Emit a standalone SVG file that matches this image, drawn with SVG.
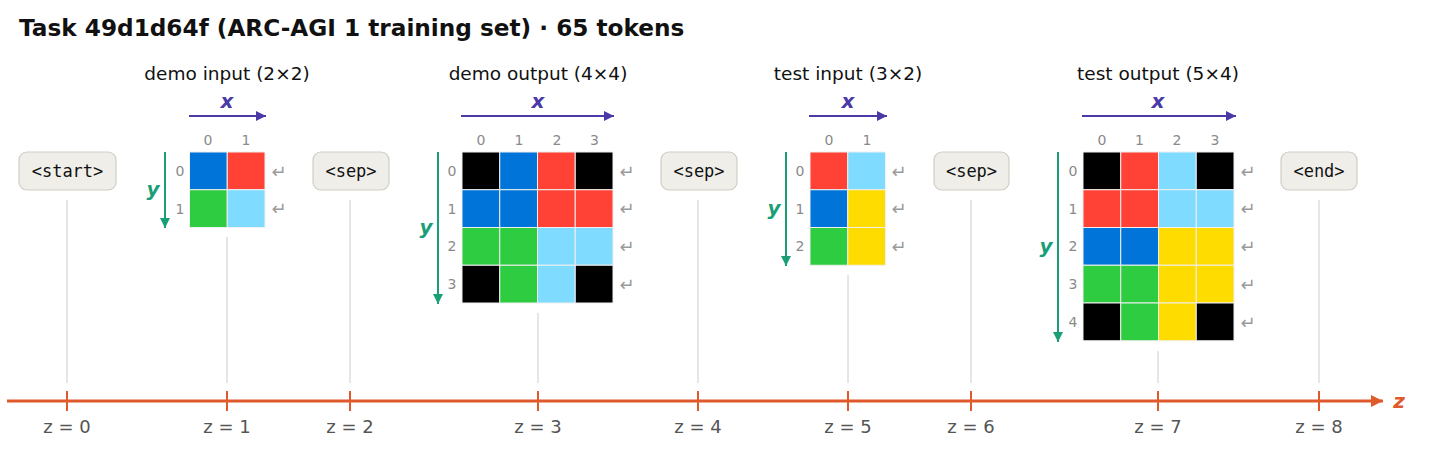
<svg xmlns="http://www.w3.org/2000/svg" width="1429" height="461" viewBox="0 0 1429 461">
<style>
  text { font-family: "DejaVu Sans", "Liberation Sans", sans-serif; }
  .title { font-size: 23.2px; font-weight: bold; fill: #111; }
  .sub { font-size: 18.5px; fill: #111; text-anchor: middle; }
  .zl { font-size: 18px; fill: #555; text-anchor: middle; }
  .tok { font-family: "DejaVu Sans Mono", "Liberation Mono", monospace; font-size: 17px; fill: #111; text-anchor: middle; dominant-baseline: central; }
  .box { fill: #efeee9; stroke: #cfcdc4; stroke-width: 1.2; }
  .idx { font-size: 14px; fill: #8a8a8a; text-anchor: middle; dominant-baseline: central; }
  .ret { font-size: 18px; fill: #9a9a9a; text-anchor: middle; dominant-baseline: central; }
  .xl { font-size: 20px; font-weight: bold; font-style: italic; fill: #4a3aa8; text-anchor: middle; dominant-baseline: central; }
  .yl { font-size: 20px; font-weight: bold; font-style: italic; fill: #1a9e77; text-anchor: middle; dominant-baseline: central; }
  .xa { stroke: #4a3aa8; stroke-width: 2; fill: none; }
  .ya { stroke: #1a9e77; stroke-width: 2; fill: none; }
  .vl { stroke: #cccccc; stroke-width: 1; }
  .axis { stroke: #e0592a; stroke-width: 3; }
  .tick { stroke: #e0592a; stroke-width: 2; }
  .c { stroke: #f0f0f0; stroke-width: 1; }
  .k { fill: #000000; } .b { fill: #0074D9; } .r { fill: #FF4136; } .g { fill: #2ECC40; } .l { fill: #7FDBFF; } .y { fill: #FFDC00; }
</style>
<defs>
  <marker id="mx" viewBox="0 0 10 10" refX="10" refY="5" markerWidth="5" markerHeight="5" orient="auto" markerUnits="strokeWidth"><path d="M0,0 L10,5 L0,10 z" fill="#4a3aa8"/></marker>
  <marker id="my" viewBox="0 0 10 10" refX="10" refY="5" markerWidth="5" markerHeight="5" orient="auto" markerUnits="strokeWidth"><path d="M0,0 L10,5 L0,10 z" fill="#1a9e77"/></marker>
  <marker id="mz" viewBox="0 0 10 10" refX="10" refY="5" markerWidth="4" markerHeight="4" orient="auto" markerUnits="strokeWidth"><path d="M0,0 L10,5 L0,10 z" fill="#e0592a"/></marker>
</defs>

<text class="title" x="19" y="36">Task 49d1d64f (ARC-AGI 1 training set) · 65 tokens</text>

<g id="connectors">
  <line class="vl" x1="67" y1="200" x2="67" y2="383"/>
  <line class="vl" x1="227" y1="237" x2="227" y2="383"/>
  <line class="vl" x1="350" y1="200" x2="350" y2="383"/>
  <line class="vl" x1="538" y1="313" x2="538" y2="383"/>
  <line class="vl" x1="698" y1="200" x2="698" y2="383"/>
  <line class="vl" x1="848" y1="275" x2="848" y2="383"/>
  <line class="vl" x1="971" y1="200" x2="971" y2="383"/>
  <line class="vl" x1="1158" y1="351" x2="1158" y2="383"/>
  <line class="vl" x1="1319" y1="200" x2="1319" y2="383"/>
</g>

<g id="z-axis">
  <line class="axis" x1="7" y1="401" x2="1383" y2="401" marker-end="url(#mz)"/>
  <text x="1399" y="401" style="font-size:20px;font-weight:bold;font-style:italic;fill:#e0592a;text-anchor:middle;dominant-baseline:central">z</text>
  <line class="tick" x1="67" y1="391" x2="67" y2="411"/>
  <line class="tick" x1="227" y1="391" x2="227" y2="411"/>
  <line class="tick" x1="350" y1="391" x2="350" y2="411"/>
  <line class="tick" x1="538" y1="391" x2="538" y2="411"/>
  <line class="tick" x1="698" y1="391" x2="698" y2="411"/>
  <line class="tick" x1="848" y1="391" x2="848" y2="411"/>
  <line class="tick" x1="971" y1="391" x2="971" y2="411"/>
  <line class="tick" x1="1158" y1="391" x2="1158" y2="411"/>
  <line class="tick" x1="1319" y1="391" x2="1319" y2="411"/>
  <text class="zl" x="67" y="433">z = 0</text>
  <text class="zl" x="227" y="433">z = 1</text>
  <text class="zl" x="350" y="433">z = 2</text>
  <text class="zl" x="538" y="433">z = 3</text>
  <text class="zl" x="698" y="433">z = 4</text>
  <text class="zl" x="848" y="433">z = 5</text>
  <text class="zl" x="971" y="433">z = 6</text>
  <text class="zl" x="1158" y="433">z = 7</text>
  <text class="zl" x="1319" y="433">z = 8</text>
</g>

<g id="tok-start">
  <rect class="box" x="19" y="152" width="97" height="38" rx="8"/>
  <text class="tok" x="67.5" y="171">&lt;start&gt;</text>
</g>
<g id="tok-sep1">
  <rect class="box" x="313" y="152" width="76" height="38" rx="8"/>
  <text class="tok" x="351" y="171">&lt;sep&gt;</text>
</g>
<g id="tok-sep2">
  <rect class="box" x="661" y="152" width="76" height="38" rx="8"/>
  <text class="tok" x="699" y="171">&lt;sep&gt;</text>
</g>
<g id="tok-sep3">
  <rect class="box" x="934" y="152" width="75" height="38" rx="8"/>
  <text class="tok" x="971.5" y="171">&lt;sep&gt;</text>
</g>
<g id="tok-end">
  <rect class="box" x="1281" y="152" width="76" height="38" rx="8"/>
  <text class="tok" x="1319" y="171">&lt;end&gt;</text>
</g>

<g id="demo-input">
  <text class="sub" x="227" y="80">demo input (2×2)</text>
  <text class="xl" x="227" y="101">x</text>
  <line class="xa" x1="189" y1="116" x2="266" y2="116" marker-end="url(#mx)"/>
  <line class="ya" x1="165" y1="152" x2="165" y2="228" marker-end="url(#my)"/>
  <text class="yl" x="153" y="189">y</text>
  <text class="idx" x="208" y="140">0</text>
  <text class="idx" x="246" y="140">1</text>
  <text class="idx" x="180" y="171">0</text>
  <text class="idx" x="180" y="208.5">1</text>
  <g class="c">
    <rect class="b" x="189.5" y="152" width="37.75" height="37.75"/>
    <rect class="r" x="227.25" y="152" width="37.75" height="37.75"/>
    <rect class="g" x="189.5" y="189.75" width="37.75" height="37.75"/>
    <rect class="l" x="227.25" y="189.75" width="37.75" height="37.75"/>
  </g>
  <text class="ret" x="279" y="171">↵</text>
  <text class="ret" x="279" y="208.5">↵</text>
</g>

<g id="demo-output">
  <text class="sub" x="538" y="80">demo output (4×4)</text>
  <text class="xl" x="538" y="101">x</text>
  <line class="xa" x1="461" y1="116" x2="614" y2="116" marker-end="url(#mx)"/>
  <line class="ya" x1="438" y1="152" x2="438" y2="304" marker-end="url(#my)"/>
  <text class="yl" x="426" y="227">y</text>
  <text class="idx" x="481" y="140">0</text>
  <text class="idx" x="519" y="140">1</text>
  <text class="idx" x="557" y="140">2</text>
  <text class="idx" x="594.5" y="140">3</text>
  <text class="idx" x="452" y="171">0</text>
  <text class="idx" x="452" y="208.5">1</text>
  <text class="idx" x="452" y="246">2</text>
  <text class="idx" x="452" y="284">3</text>
  <g class="c">
    <rect class="k" x="462" y="152" width="37.75" height="37.75"/>
    <rect class="b" x="499.75" y="152" width="37.75" height="37.75"/>
    <rect class="r" x="537.5" y="152" width="37.75" height="37.75"/>
    <rect class="k" x="575.25" y="152" width="37.75" height="37.75"/>
    <rect class="b" x="462" y="189.75" width="37.75" height="37.75"/>
    <rect class="b" x="499.75" y="189.75" width="37.75" height="37.75"/>
    <rect class="r" x="537.5" y="189.75" width="37.75" height="37.75"/>
    <rect class="r" x="575.25" y="189.75" width="37.75" height="37.75"/>
    <rect class="g" x="462" y="227.5" width="37.75" height="37.75"/>
    <rect class="g" x="499.75" y="227.5" width="37.75" height="37.75"/>
    <rect class="l" x="537.5" y="227.5" width="37.75" height="37.75"/>
    <rect class="l" x="575.25" y="227.5" width="37.75" height="37.75"/>
    <rect class="k" x="462" y="265.25" width="37.75" height="37.75"/>
    <rect class="g" x="499.75" y="265.25" width="37.75" height="37.75"/>
    <rect class="l" x="537.5" y="265.25" width="37.75" height="37.75"/>
    <rect class="k" x="575.25" y="265.25" width="37.75" height="37.75"/>
  </g>
  <text class="ret" x="627" y="171">↵</text>
  <text class="ret" x="627" y="208.5">↵</text>
  <text class="ret" x="627" y="246">↵</text>
  <text class="ret" x="627" y="284">↵</text>
</g>

<g id="test-input">
  <text class="sub" x="848" y="80">test input (3×2)</text>
  <text class="xl" x="848" y="101">x</text>
  <line class="xa" x1="809" y1="116" x2="887" y2="116" marker-end="url(#mx)"/>
  <line class="ya" x1="786" y1="152" x2="786" y2="266" marker-end="url(#my)"/>
  <text class="yl" x="774" y="208">y</text>
  <text class="idx" x="829" y="140">0</text>
  <text class="idx" x="867" y="140">1</text>
  <text class="idx" x="800" y="171">0</text>
  <text class="idx" x="800" y="208.5">1</text>
  <text class="idx" x="800" y="246">2</text>
  <g class="c">
    <rect class="r" x="810" y="152" width="37.75" height="37.75"/>
    <rect class="l" x="847.75" y="152" width="37.75" height="37.75"/>
    <rect class="b" x="810" y="189.75" width="37.75" height="37.75"/>
    <rect class="y" x="847.75" y="189.75" width="37.75" height="37.75"/>
    <rect class="g" x="810" y="227.5" width="37.75" height="37.75"/>
    <rect class="y" x="847.75" y="227.5" width="37.75" height="37.75"/>
  </g>
  <text class="ret" x="899" y="171">↵</text>
  <text class="ret" x="899" y="208.5">↵</text>
  <text class="ret" x="899" y="246">↵</text>
</g>

<g id="test-output">
  <text class="sub" x="1158" y="80">test output (5×4)</text>
  <text class="xl" x="1158" y="101">x</text>
  <line class="xa" x1="1082" y1="116" x2="1236" y2="116" marker-end="url(#mx)"/>
  <line class="ya" x1="1058" y1="152" x2="1058" y2="342" marker-end="url(#my)"/>
  <text class="yl" x="1046" y="246">y</text>
  <text class="idx" x="1102" y="140">0</text>
  <text class="idx" x="1139.5" y="140">1</text>
  <text class="idx" x="1177" y="140">2</text>
  <text class="idx" x="1215" y="140">3</text>
  <text class="idx" x="1073" y="171">0</text>
  <text class="idx" x="1073" y="208.5">1</text>
  <text class="idx" x="1073" y="246">2</text>
  <text class="idx" x="1073" y="284">3</text>
  <text class="idx" x="1073" y="322">4</text>
  <g class="c">
    <rect class="k" x="1083" y="152" width="37.75" height="37.75"/>
    <rect class="r" x="1120.75" y="152" width="37.75" height="37.75"/>
    <rect class="l" x="1158.5" y="152" width="37.75" height="37.75"/>
    <rect class="k" x="1196.25" y="152" width="37.75" height="37.75"/>
    <rect class="r" x="1083" y="189.75" width="37.75" height="37.75"/>
    <rect class="r" x="1120.75" y="189.75" width="37.75" height="37.75"/>
    <rect class="l" x="1158.5" y="189.75" width="37.75" height="37.75"/>
    <rect class="l" x="1196.25" y="189.75" width="37.75" height="37.75"/>
    <rect class="b" x="1083" y="227.5" width="37.75" height="37.75"/>
    <rect class="b" x="1120.75" y="227.5" width="37.75" height="37.75"/>
    <rect class="y" x="1158.5" y="227.5" width="37.75" height="37.75"/>
    <rect class="y" x="1196.25" y="227.5" width="37.75" height="37.75"/>
    <rect class="g" x="1083" y="265.25" width="37.75" height="37.75"/>
    <rect class="g" x="1120.75" y="265.25" width="37.75" height="37.75"/>
    <rect class="y" x="1158.5" y="265.25" width="37.75" height="37.75"/>
    <rect class="y" x="1196.25" y="265.25" width="37.75" height="37.75"/>
    <rect class="k" x="1083" y="303" width="37.75" height="37.75"/>
    <rect class="g" x="1120.75" y="303" width="37.75" height="37.75"/>
    <rect class="y" x="1158.5" y="303" width="37.75" height="37.75"/>
    <rect class="k" x="1196.25" y="303" width="37.75" height="37.75"/>
  </g>
  <text class="ret" x="1248" y="171">↵</text>
  <text class="ret" x="1248" y="208.5">↵</text>
  <text class="ret" x="1248" y="246">↵</text>
  <text class="ret" x="1248" y="284">↵</text>
  <text class="ret" x="1248" y="322">↵</text>
</g>
</svg>
